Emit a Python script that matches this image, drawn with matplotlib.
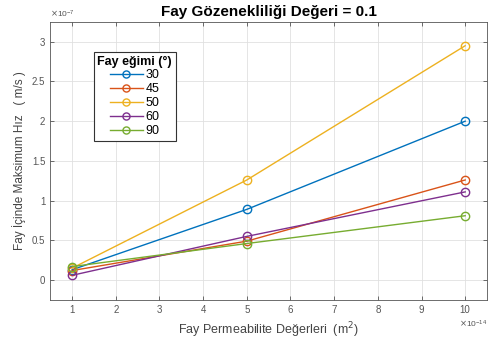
import matplotlib.pyplot as plt
from matplotlib.ticker import ScalarFormatter

plt.rcParams["font.family"] = ["Liberation Sans", "DejaVu Sans"]

# permeability values (m^2)
perm = [1e-14, 5e-14, 10e-14]

# max velocity (m/s) per fault dip angle
dip_labels = ["30", "45", "50", "60", "90"]
vel_30 = [0.13e-7, 0.89e-7, 2.00e-7]
vel_45 = [0.12e-7, 0.49e-7, 1.26e-7]
vel_50 = [0.15e-7, 1.26e-7, 2.95e-7]
vel_60 = [0.06e-7, 0.55e-7, 1.11e-7]
vel_90 = [0.17e-7, 0.46e-7, 0.81e-7]

colors = ["#0072BD", "#D95319", "#EDB120", "#7E2F8E", "#77AC30"]


class GFormatter(ScalarFormatter):
    # MATLAB-like tick labels: 1, 1.5, 2 ...
    def _set_format(self):
        self.format = "%g"


fig = plt.figure(figsize=(4.88, 3.42), dpi=100)
ax = fig.add_axes([0.103, 0.123, 0.895, 0.813])

for label, vals, c in zip(dip_labels, [vel_30, vel_45, vel_50, vel_60, vel_90], colors):
    ax.plot(perm, vals, "-o", color=c, linewidth=1.0, markersize=6,
            markerfacecolor="none", markeredgewidth=1.0, label=label)

ax.set_xlim(0.5e-14, 10.5e-14)
ax.set_ylim(-0.25e-7, 3.25e-7)
ax.set_xticks([i * 1e-14 for i in range(1, 11)])
ax.set_yticks([0, 0.5e-7, 1e-7, 1.5e-7, 2e-7, 2.5e-7, 3e-7])

for axis, p in ((ax.xaxis, -14), (ax.yaxis, -7)):
    fmt = GFormatter(useMathText=True)
    fmt.set_powerlimits((p, p))
    axis.set_major_formatter(fmt)
for t in (ax.xaxis.get_offset_text(), ax.yaxis.get_offset_text()):
    t.set_fontsize(6)
    t.set_color("#555555")

ax.grid(True, color="#e0e0e0", linewidth=0.6)
ax.tick_params(direction="in", top=True, right=True, labelsize=7,
               colors="#555555", length=3, width=0.6)
for s in ax.spines.values():
    s.set_color("#555555")
    s.set_linewidth(0.6)

ax.set_title("Fay Gözenekliliği Değeri = 0.1", fontsize=11, fontweight="bold", pad=4)
ax.set_xlabel("Fay Permeabilite Değerleri  (m$^2$)", fontsize=9, color="#444444")
ax.set_ylabel("Fay İçinde Maksimum Hız   ( m/s )", fontsize=8.5, color="#444444")

leg = ax.legend(title="Fay eğimi (°)", loc="upper left", bbox_to_anchor=(0.085, 0.915),
                fontsize=9, title_fontproperties={"weight": "bold", "size": 9},
                fancybox=False, edgecolor="#333333", framealpha=1,
                handlelength=2.6, handletextpad=0.2, borderpad=0.3,
                labelspacing=0.15, markerscale=0.85)
leg.get_frame().set_linewidth(0.8)

fig.savefig("out.png", dpi=100)
